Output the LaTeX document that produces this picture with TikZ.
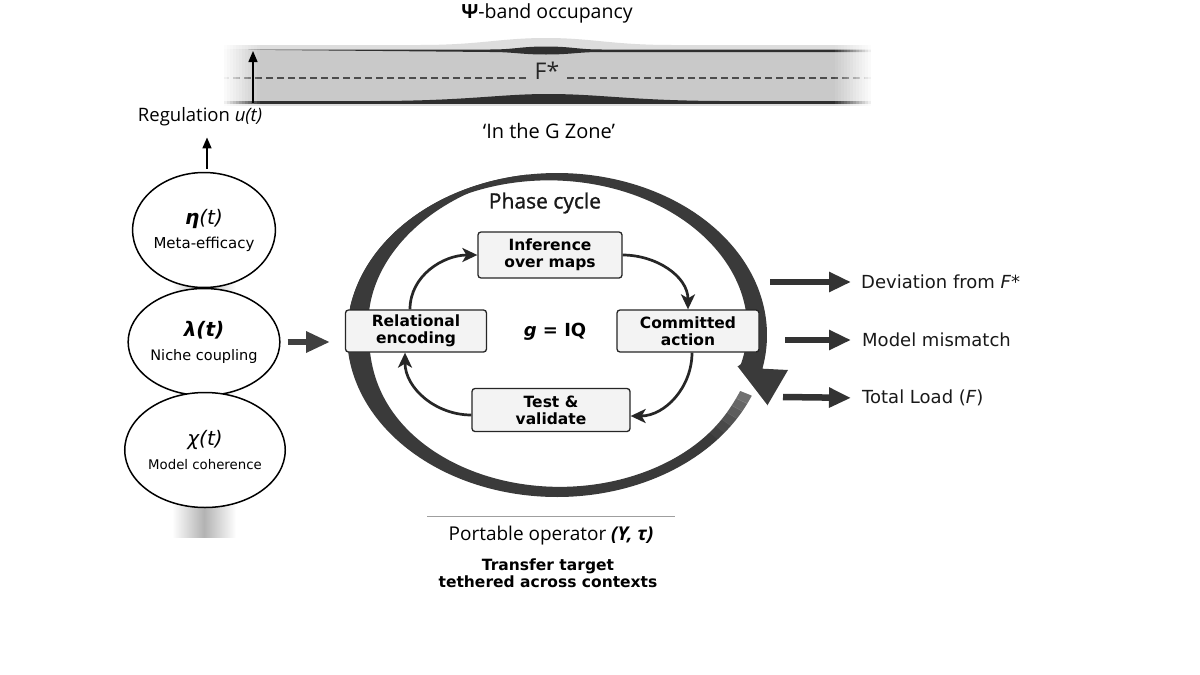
\documentclass[tikz,border=0pt]{standalone}
\usepackage{fontspec}
\setmainfont{DejaVu Sans}
\newfontfamily\osans{Open Sans}
\newfontfamily\osanssemi[FakeBold=1.2]{Open Sans}
\usetikzlibrary{arrows.meta,shapes.geometric}
\definecolor{ringcol}{HTML}{3A3A3A}
\definecolor{bandgray}{HTML}{C9C9C9}
\definecolor{bandlight}{HTML}{DDDDDD}
\definecolor{banddark}{HTML}{2F2F2F}
\definecolor{boxfill}{HTML}{F3F3F3}
\begin{document}
\begin{tikzpicture}[x=1pt,y=-1pt,
  declare function={
    wA(\t)=(\t<180)*(7.5+14.5/(1+((\t-180)/40)^2)+4/(1+((\t-22)/18)^2))+(1-(\t<180))*(22*(262-\t)/82);
    wB(\t)=1.5+20.5*((\t-190)/182)*sqrt((\t-190)/182);
  },
  stepbox/.style={draw=black!85, line width=1.3pt, rounded corners=3pt, fill=boxfill,
    align=center, font=\bfseries\fontsize{15.5}{17}\selectfont, inner sep=0pt},
  oval/.style={ellipse, draw=black, line width=1.5pt, fill=white, inner sep=0pt, align=center,
    font=\fontsize{15}{24}\selectfont},
  cyc/.style={-{Stealth[length=15pt,width=14pt,inset=4pt]}, line width=2.7pt, draw=black!85},
  outarrow/.style={-{Triangle[length=22pt,width=19pt]}, line width=6.5pt, draw=black!80},
  thinarrow/.style={-{Triangle[length=11pt,width=9pt]}, line width=1.6pt, draw=black},
  lbl/.style={font=\fontsize{18}{22}\selectfont, anchor=west, inner sep=0pt, text=black!90},
]
\useasboundingbox (0,0) rectangle (1200,675);
\fill[white] (0,0) rectangle (1200,675);

% ---------- top band ----------
\fill[bandlight] (222,51) -- (222,45) -- (420,45) .. controls (480,45) and (500,38) .. (546,38)
  .. controls (592,38) and (612,45) .. (672,45) -- (873,45) -- (873,51) -- cycle;
\fill[bandgray] (222,50) rectangle (873,104);
\fill[banddark] (222,49.5) -- (490,49.5) .. controls (515,49.5) and (520,46.5) .. (546,46.5)
  .. controls (572,46.5) and (577,49.5) .. (602,49.5) -- (873,49.5) -- (873,52)
  -- (602,52) .. controls (577,52) and (572,54.5) .. (546,54.5)
  .. controls (520,54.5) and (515,52) .. (490,52) -- cycle;
\fill[banddark] (222,104) -- (222,101) -- (380,101) .. controls (470,100.5) and (500,94) .. (548,94)
  .. controls (600,94) and (630,100.5) .. (720,101) -- (873,101) -- (873,104) -- cycle;
\fill[bandlight] (222,104) rectangle (873,106);
\draw[black!70, line width=1.5pt, dash pattern=on 7pt off 4pt] (222,78) -- (527,78);
\draw[black!70, line width=1.5pt, dash pattern=on 7pt off 4pt] (567,78) -- (873,78);
\node[text=black!85, font=\osans\fontsize{23}{28}\selectfont] (fstar) at (547,71) {F*};
\foreach \i in {0,...,12} {
  \fill[white, opacity={1-\i/13}] ({221+3*\i},30) rectangle ({224.3+3*\i},112);
  \fill[white, opacity={1-\i/13}] ({874-3*\i},30) rectangle ({870.7-3*\i},112);
}
\coordinate (ubot) at (253,103);
\coordinate (utop) at (253,51);
\draw[thinarrow, line width=1.5pt] (ubot) -- (utop);

\node[font=\osans\fontsize{19.5}{22}\selectfont] (psi) at (547,13) {\textbf{Ψ}-band occupancy};
\node[font=\osans\fontsize{20}{24}\selectfont] (gz) at (549,131) {‘In the G Zone’};
\node[font=\osans\fontsize{18.5}{22}\selectfont, inner sep=2pt] (reg) at (200,117) {Regulation \textit{u(t)}};

% ---------- left column ----------
\shade[left color=white, right color=white, middle color=gray!60] (172,280) rectangle (236,400);
\shade[left color=white, right color=white, middle color=gray!60] (172,500) rectangle (236,537);
\node[oval, minimum width=132pt, minimum height=115pt] (eta) at (204,230)
  {{\fontsize{20}{24}\selectfont\bfseries\itshape η\mdseries(t)}\\Meta-efficacy};
\node[oval, minimum width=132pt, minimum height=107pt] (lam) at (204,342)
  {{\fontsize{20}{24}\selectfont\bfseries\itshape λ(t)}\\{\fontsize{14.5}{18}\selectfont Niche coupling}};
\node[oval, minimum width=134pt, minimum height=115pt] (chi) at (205,450)
  {{\fontsize{20}{24}\selectfont\itshape χ(t)}\\{\fontsize{13.3}{16}\selectfont Model coherence}};
\coordinate (regbase) at ([xshift=3pt]eta.north);
\draw[thinarrow, shorten <=3pt, shorten >=9pt] (regbase) -- (regbase |- reg.south);
\coordinate (ringin) at (330,342);
\draw[-{Triangle[length=24pt,width=20pt]}, line width=6pt, draw=black!75, shorten <=7pt] (lam.east) -- (ringin);

% ---------- ring ----------
\fill[ringcol] plot[domain=22:262,samples=160] ({557+210*cos(\x)},{335+162*sin(\x)})
  -- plot[domain=262:22,samples=160] ({557+(210-wA(\x))*cos(\x)},{335+(162-wA(\x))*sin(\x)}) -- cycle;
\foreach \a/\o in {22/0.28,25/0.23,28/0.18,31/0.13,34/0.08,37/0.04} {
  \fill[white, opacity=\o] plot[domain=\a:\a+3.1,samples=4] ({557+210*cos(\x)},{335+162*sin(\x)})
    -- plot[domain=\a+3.1:\a,samples=4] ({557+(210-wA(\x))*cos(\x)},{335+(162-wA(\x))*sin(\x)}) -- cycle;
}
\fill[ringcol] plot[domain=190:372,samples=160] ({557+210*cos(\x)},{335+162*sin(\x)})
  -- (788,370) -- (767,406) -- (737,367)
  -- plot[domain=372:190,samples=160] ({557+(210-wB(\x))*cos(\x)},{335+(162-wB(\x))*sin(\x)}) -- cycle;
\draw[white, line width=1.5pt] (737,367) -- (767,406);

\node[font=\osanssemi\fontsize{21}{24}\selectfont, text=black!90] (phase) at (545,203) {Phase cycle};

% ---------- cycle boxes ----------
\node[stepbox, minimum width=144pt, minimum height=46pt] (inf) at (550,255) {Inference\\over maps};
\node[stepbox, minimum width=141pt, minimum height=42pt] (rel) at (416,331) {Relational\\encoding};
\node[stepbox, minimum width=142pt, minimum height=42pt] (com) at (688,331) {Committed\\action};
\node[stepbox, minimum width=158pt, minimum height=43pt] (test) at (551,410) {Test \&\\validate};
\node[font=\bfseries\fontsize{18}{20}\selectfont] (g) at (555,332) {\itshape g\upshape{} = IQ};

\draw[cyc] ([xshift=-6pt]rel.north) to[out=90,in=180] (inf.west);
\draw[cyc] (inf.east) to[out=0,in=90] (com.north);
\draw[cyc] ([xshift=4pt]com.south) to[out=-90,in=0] ([yshift=-6pt]test.east);
\draw[cyc] ([yshift=-5pt]test.west) to[out=180,in=-90] ([xshift=-11pt]rel.south);

% ---------- outputs ----------
\coordinate (o1) at (770,282);
\coordinate (o2) at (785,340);
\coordinate (o3) at (783,397);
\node[lbl] (dev) at (861,282) {Deviation from \textit{F}*};
\node[lbl] (mm) at (862,340) {Model mismatch};
\node[lbl] (tl) at (862,398) {Total Load (\textit{F})};
\draw[outarrow, shorten >=10pt] (o1) -- (dev.west);
\draw[outarrow, shorten >=11pt] (o2) -- (mm.west);
\draw[outarrow, shorten >=11pt] (o3) -- (tl.west);

% ---------- bottom ----------
\coordinate (la) at (427,516);
\coordinate (lb) at (675,516);
\draw[gray!75, line width=1pt] (la) -- (lb);
\node[font=\osans\fontsize{19}{22}\selectfont] (port) at (551,536) {Portable operator \textbf{\textit{(Y, τ)}}};
\node[font=\bfseries\fontsize{15.5}{17.5}\selectfont, align=center] (tt) at (548,573) {Transfer target\\tethered across contexts};
\end{tikzpicture}
\end{document}
